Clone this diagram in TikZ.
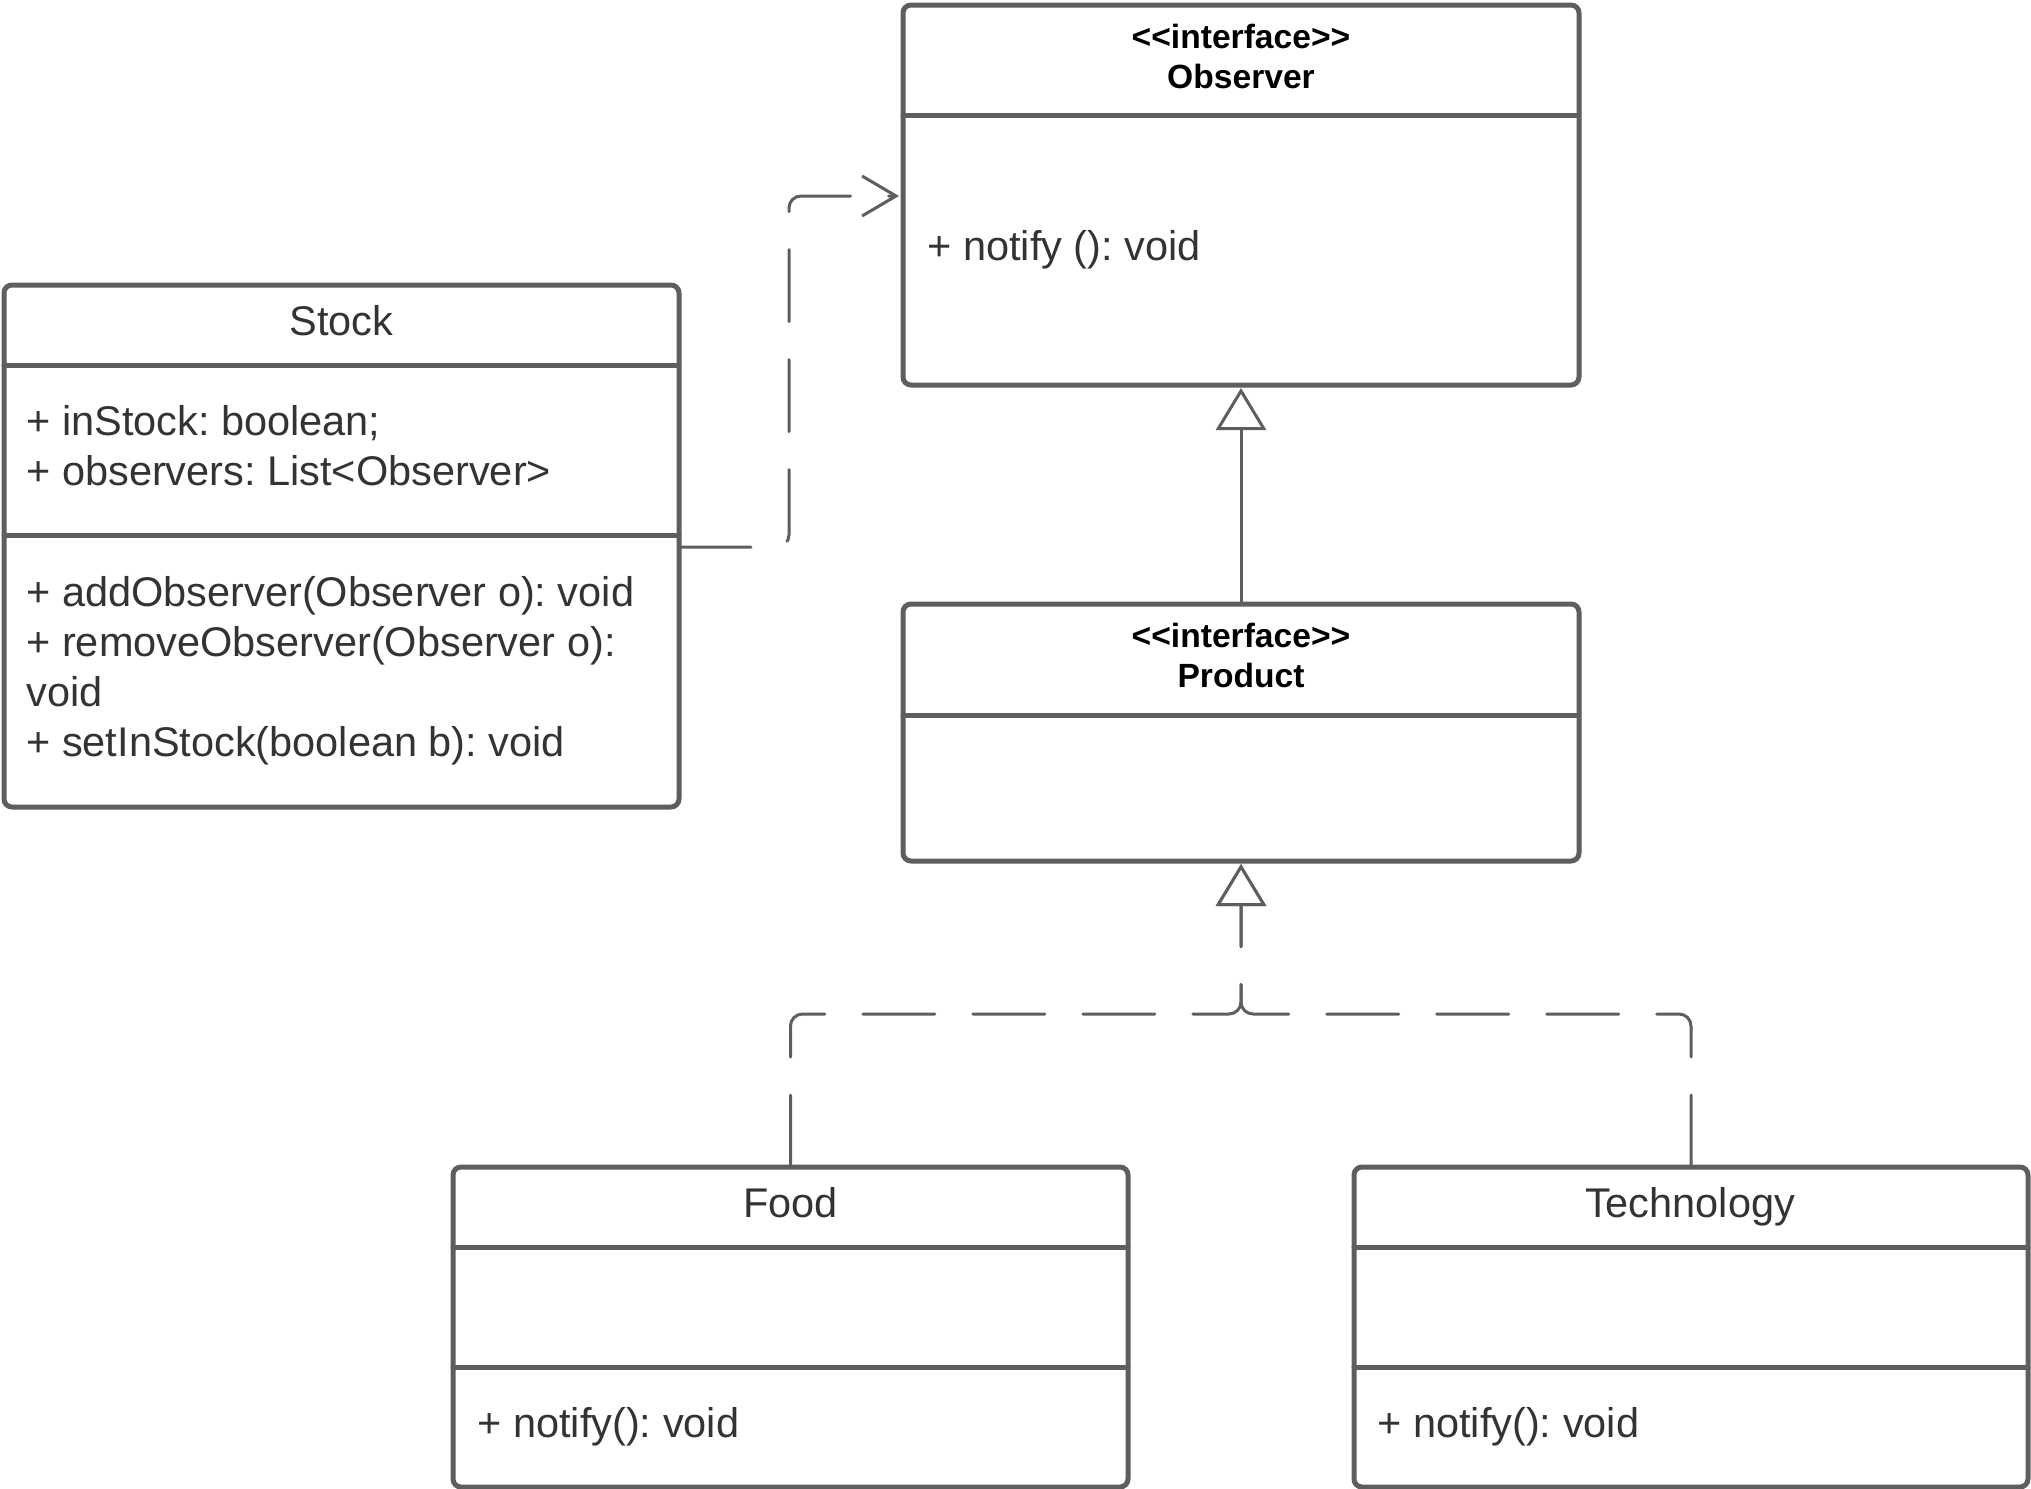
\documentclass[tikz,border=0pt]{standalone}
\usepackage{fontspec}
\setmainfont{Liberation Sans}
\frenchspacing
\usetikzlibrary{arrows.meta}
\definecolor{umlline}{HTML}{5E5E5E}
\definecolor{umltext}{HTML}{333333}
\tikzset{
	classbox/.style={draw=umlline,line width=2.5pt,rounded corners=4pt,inner sep=0pt,outer sep=0pt},
	divider/.style={draw=umlline,line width=2.5pt},
	classname/.style={text=umltext,inner sep=0pt,text depth=0pt,font=\fontsize{20.75}{25}\selectfont},
	member/.style={classname,anchor=west,align=left},
	stereo/.style={align=center,inner sep=0pt,font=\bfseries\fontsize{16.8}{20}\selectfont},
	depend/.style={draw=umlline,line width=1.5pt,dash pattern=on 36pt off 19pt,rounded corners=6pt,-{Straight Barb[length=17pt,width=20pt]}},
	inherit/.style={draw=umlline,line width=1.5pt,-{Triangle[length=21pt,width=25pt,fill=white]}},
	realize/.style={inherit,dash pattern=on 36pt off 19pt,rounded corners=6pt}
}
\begin{document}
\begin{tikzpicture}[line cap=round,line join=round,>=stealth,x=.5pt,y=-.5pt]
		\useasboundingbox (0,0) rectangle (2031,1489);
		% Observer
		\node[classbox,minimum width=338pt,minimum height=190pt] (obs) at (1241,195) {};
		\draw[divider] (obs.west |- 0,115) -- (obs.east |- 0,115);
		\node[stereo] (obshead) at (1241,56) {<{}<interface>{}>\\Observer};
		\node[member] (obsops) at (927,245) {+ notify (): void};
		% Stock
		\node[classbox,minimum width=337.5pt,minimum height=261pt] (stock) at (341.5,546) {};
		\draw[divider] (stock.west |- 0,365) -- (stock.east |- 0,365);
		\draw[divider] (stock.west |- 0,535) -- (stock.east |- 0,535);
		\node[classname] (stockname) at (341.5,320) {Stock};
		\node[member] (stockattr) at (26,445) {+ inStock: boolean;\\+ observers: List<Observer>};
		\node[member] (stockops) at (26,666) {+ addObserver(Observer o): void\\+ removeObserver(Observer o):\\void\\+ setInStock(boolean b): void};
		% Product
		\node[classbox,minimum width=338pt,minimum height=128.5pt] (prod) at (1241,732.5) {};
		\draw[divider] (prod.west |- 0,715) -- (prod.east |- 0,715);
		\node[stereo] (prodhead) at (1241,655.5) {<{}<interface>{}>\\Product};
		% Food
		\node[classbox,minimum width=337.5pt,minimum height=160pt] (food) at (790.5,1327) {};
		\draw[divider] (food.west |- 0,1247) -- (food.east |- 0,1247);
		\draw[divider] (food.west |- 0,1367) -- (food.east |- 0,1367);
		\node[classname] (foodname) at (790.5,1202) {Food};
		\node[member] (foodops) at (477,1422) {+ notify(): void};
		% Technology
		\node[classbox,minimum width=337pt,minimum height=160pt] (tech) at (1691,1327) {};
		\draw[divider] (tech.west |- 0,1247) -- (tech.east |- 0,1247);
		\draw[divider] (tech.west |- 0,1367) -- (tech.east |- 0,1367);
		\node[classname] (techname) at (1690,1202) {Technology};
		\node[member] (techops) at (1377,1422) {+ notify(): void};
		% relations
		\coordinate (depbend) at (789,196);
		\coordinate (realjoin) at (1241,1014);
		\draw[depend,shorten >=2pt] (stock.east |- 0,547) -| (depbend) -- (obs.west |- depbend);
		\draw[inherit,shorten >=1.5pt] (prod.north) -- (obs.south);
		\draw[realize,shorten >=1.5pt] (food.north) |- (realjoin) -- (prod.south);
		\draw[realize,shorten >=1.5pt] (tech.north) |- (realjoin) -- (prod.south);
	\end{tikzpicture}
\end{document}
